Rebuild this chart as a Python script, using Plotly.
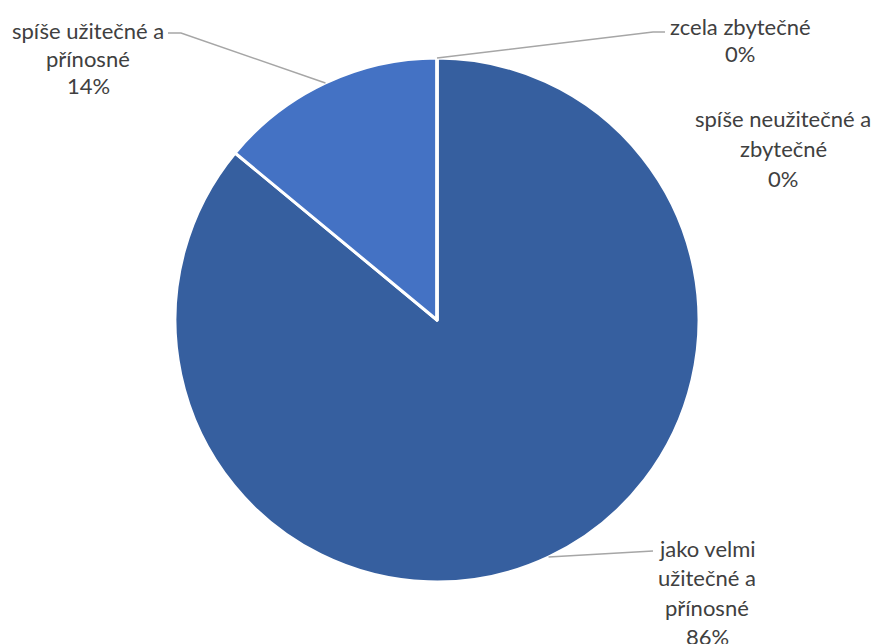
import math
import plotly.graph_objects as go

# Survey answers and their shares (percent)
labels = [
    "jako velmi užitečné a přínosné",
    "spíše užitečné a přínosné",
    "zcela zbytečné",
    "spíše neužitečné a zbytečné",
]
values = [86, 14, 0, 0]
colors = ["#365F9F", "#4472C4", "#A5A5A5", "#FFC000"]

# Label text broken into lines as drawn next to the pie
label_lines = [
    ["jako velmi", "užitečné a", "přínosné"],
    ["spíše užitečné a", "přínosné"],
    ["zcela zbytečné"],
    ["spíše neužitečné a", "zbytečné"],
]

W, H = 875, 644
CX, CY, R = 437, 320, 262  # pie centre and radius in pixels


def px(x):
    return x / W


def py(y):
    return 1 - y / H


fig = go.Figure(
    go.Pie(
        labels=labels,
        values=values,
        sort=False,
        direction="clockwise",
        rotation=0,
        marker=dict(colors=colors, line=dict(color="white", width=3)),
        textinfo="none",
        hoverinfo="label+percent",
        showlegend=False,
        domain=dict(x=[px(CX - R), px(CX + R)], y=[py(CY + R), py(CY - R)]),
    )
)

# Per-label layout: text centre x, first line y, line pitch, leader elbow/end
label_layout = [
    dict(x=707, y0=548, dy=29.5, elbow=None, end=(653, 551)),
    dict(x=88, y0=30, dy=28, elbow=(181, 33), end=(168, 33)),
    dict(x=740, y0=27, dy=27, elbow=(653, 32), end=(665, 32)),
    dict(x=783, y0=119, dy=29.5, elbow=None, end=None),
]

total = sum(values)
annotations = []
shapes = []
cum = 0.0
for lab, lines, val, lay in zip(labels, label_lines, values, label_layout):
    frac = val / total
    mid = (cum + frac / 2) * 2 * math.pi
    cum += frac
    pct = f"{round(val / total * 100)}%"
    text_rows = lines + [pct]
    for i, row in enumerate(text_rows):
        annotations.append(
            dict(
                x=px(lay["x"]), y=py(lay["y0"] + i * lay["dy"]),
                xref="paper", yref="paper", text=row, showarrow=False,
                xanchor="center", yanchor="middle",
                font=dict(family="Lato, Open Sans, sans-serif", size=22, color="#404040"),
            )
        )
    if lay["end"] is not None:
        ax = CX + R * math.sin(mid)
        ay = CY - R * math.cos(mid)
        pts = [(ax, ay)]
        if lay["elbow"] is not None:
            pts.append(lay["elbow"])
        pts.append(lay["end"])
        path = "M " + " L ".join(f"{px(x):.5f},{py(y):.5f}" for x, y in pts)
        shapes.append(
            dict(type="path", path=path, xref="paper", yref="paper",
                 line=dict(color="#A6A6A6", width=1.5))
        )

fig.update_layout(
    width=W, height=H,
    margin=dict(l=0, r=0, t=0, b=0),
    paper_bgcolor="white", plot_bgcolor="white",
    annotations=annotations, shapes=shapes,
)

fig.write_html("out.html")
